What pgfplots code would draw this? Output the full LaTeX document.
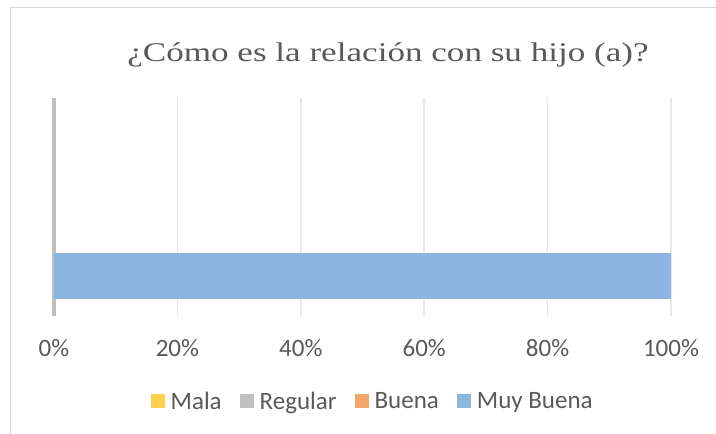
\documentclass[border=0pt]{standalone}
\usepackage{pgfplots}
\pgfplotsset{compat=1.18}
\usepackage{fontspec}
\setmainfont{Carlito}
\newfontfamily\titlefont[FakeStretch=1.3]{Liberation Serif}
\definecolor{txt}{RGB}{89,89,89}
\definecolor{cMala}{RGB}{255,208,77}
\definecolor{cRegular}{RGB}{191,191,191}
\definecolor{cBuena}{RGB}{244,165,108}
\definecolor{cMuy}{RGB}{141,181,226}
\definecolor{gridc}{RGB}{232,232,232}
\definecolor{borderc}{RGB}{217,217,217}
\begin{document}
\begin{tikzpicture}
\path[use as bounding box] (0,0) rectangle (716pt,434pt);
\draw[borderc, line width=1.5pt] (10.5pt,0pt) -- (10.5pt,426.5pt) -- (716pt,426.5pt);
\node[anchor=base, text=txt, font=\titlefont\fontsize{27}{32}\selectfont, inner sep=0pt] at (388pt,372pt) {¿Cómo es la relación con su hijo (a)?};
\begin{axis}[
  at={(54pt,117.5pt)}, anchor=south west,
  scale only axis, width=617pt, height=218.5pt,
  clip=false,
  xbar stacked, bar width=46pt,
  xmin=0, xmax=100, ymin=0, ymax=1,
  axis line style={draw=none},
  ytick=\empty,
  xtick={0,20,40,60,80,100},
  xticklabel={\pgfmathprintnumber{\tick}\%},
  /pgf/number format/assume math mode=true,
  ticklabel style={font=\fontsize{25}{30}\selectfont, text=txt},
  xticklabel style={yshift=-19pt},
  major tick length=0pt,
  xmajorgrids, grid style={gridc, line width=1.5pt},
  legend columns=4,
  legend style={at={(0.5165,-0.388)}, anchor=center, draw=none, fill=none,
    font=\fontsize{25}{30}\selectfont, text=txt,
    /tikz/every odd column/.append style={column sep=4pt},
    /tikz/every even column/.append style={column sep=16pt}},
  legend image code/.code={\fill[#1] (0pt,-7pt) rectangle (14pt,7pt);},
]
\addplot[fill=cMala, draw=none] coordinates {(0,0.1854)};
\addplot[fill=cRegular, draw=none] coordinates {(0,0.1854)};
\addplot[fill=cBuena, draw=none] coordinates {(0,0.1854)};
\addplot[fill=cMuy, draw=none] coordinates {(100,0.1854)};
\legend{Mala,Regular,Buena,Muy Buena}
\draw[cRegular, line width=3.3pt] (axis cs:0,0) -- (axis cs:0,1);
\end{axis}
\end{tikzpicture}
\end{document}
